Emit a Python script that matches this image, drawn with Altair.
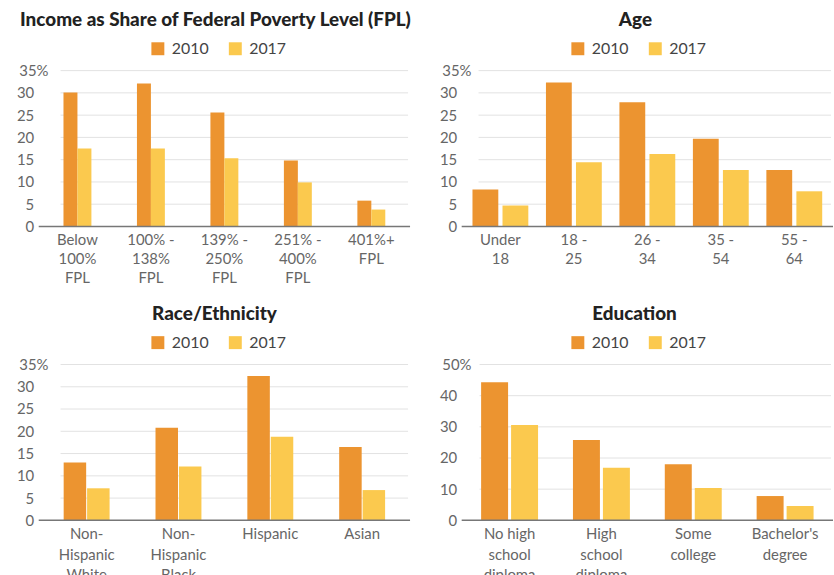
import altair as alt
import pandas as pd

FONT = "Lato"
years = ["2010", "2017"]
colors = ["#EC9430", "#FBC94E"]

fpl_title = "Income as Share of Federal Poverty Level (FPL)"
fpl_cats = ["Below|100%|FPL", "100% -|138%|FPL", "139% -|250%|FPL", "251% -|400%|FPL", "401%+|FPL"]
fpl_2010 = [30.1, 32.1, 25.6, 14.8, 5.8]
fpl_2017 = [17.5, 17.5, 15.3, 9.9, 3.8]

age_title = "Age"
age_cats = ["Under|18", "18 -|25", "26 -|34", "35 -|54", "55 -|64"]
age_2010 = [8.3, 32.3, 27.9, 19.7, 12.7]
age_2017 = [4.7, 14.4, 16.3, 12.7, 7.9]

race_title = "Race/Ethnicity"
race_cats = ["Non-|Hispanic|White", "Non-|Hispanic|Black", "Hispanic", "Asian"]
race_2010 = [13.0, 20.8, 32.4, 16.5]
race_2017 = [7.2, 12.1, 18.8, 6.8]

edu_title = "Education"
edu_cats = ["No high|school|diploma", "High|school|diploma", "Some|college", "Bachelor's|degree"]
edu_2010 = [44.3, 25.8, 18.0, 7.8]
edu_2017 = [30.6, 16.9, 10.4, 4.6]

ticks35 = [0, 5, 10, 15, 20, 25, 30, 35]
ticks50 = [0, 10, 20, 30, 40, 50]

W, H = 370, 157


def panel(title, cats, v10, v17, ticks, pad_inner, off_pad, grid_start, title_dx, legend_x, line_h):
    df = pd.DataFrame({
        "cat": cats * 2,
        "year": [years[0]] * len(cats) + [years[1]] * len(cats),
        "val": v10 + v17,
    })
    top = ticks[-1]
    test = f"datum.value == {top}"
    yaxis = alt.Axis(
        title=None, values=ticks, grid=False, domain=False, ticks=False, tickSize=0,
        labelExpr=f"datum.value == {top} ? '{top}%' : datum.label",
        labelAlign={"condition": {"test": test, "value": "left"}, "value": "right"},
        labelPadding={"condition": {"test": test, "value": 22}, "value": 7},
        labelFont=FONT, labelFontSize=15, labelColor="#666", labelBaseline="middle",
    )
    yenc = alt.Y("val:Q", scale=alt.Scale(domain=[0, top], nice=False, zero=True), axis=yaxis)

    bars = alt.Chart(df).mark_bar().encode(
        x=alt.X("cat:N", sort=cats,
                scale=alt.Scale(paddingInner=pad_inner, paddingOuter=pad_inner / 2),
                axis=alt.Axis(title=None, labelAngle=0, domain=False, ticks=False,
                              labelExpr="split(datum.label, '|')", labelFont=FONT,
                              labelFontSize=15, labelColor="#666", labelLineHeight=line_h,
                              labelPadding=6, labelBaseline="top")),
        xOffset=alt.XOffset("year:N", sort=years, scale=alt.Scale(paddingInner=off_pad, paddingOuter=0)),
        y=yenc,
        color=alt.Color("year:N", scale=alt.Scale(domain=years, range=colors),
                        legend=alt.Legend(title=None, orient="none", legendX=legend_x, legendY=-30,
                                          direction="horizontal", symbolType="square",
                                          symbolSize=170, symbolStrokeWidth=0, labelFont=FONT,
                                          labelFontSize=16, labelColor="#444", columnPadding=18,
                                          labelOffset=6, padding=0)),
    )
    grid = alt.Chart(pd.DataFrame({"val": ticks[1:]})).mark_rule(color="#e2e2e2", strokeWidth=1).encode(
        y=yenc, x=alt.value(grid_start), x2=alt.value(W))
    base = alt.Chart(pd.DataFrame({"val": [0]})).mark_rule(color="#777", strokeWidth=1.5).encode(
        y=yenc, x=alt.value(-2), x2=alt.value(W + 2))
    return alt.layer(grid, bars, base).properties(
        width=W, height=H,
        title=alt.Title(title, font=FONT, fontSize=19, fontWeight=900, color="#222",
                        anchor="middle", dx=title_dx, offset=11),
    )


p1 = panel(fpl_title, fpl_cats, fpl_2010, fpl_2017, ticks35, 0.62, 0.0, 20, -9, 110, 19)
p2 = panel(age_title, age_cats, age_2010, age_2017, ticks35, 0.24, 0.14, 15, -12, 107, 19)
p3 = panel(race_title, race_cats, race_2010, race_2017, ticks35, 0.5, 0.04, 20, -10, 110, 21)
p4 = panel(edu_title, edu_cats, edu_2010, edu_2017, ticks50, 0.38, 0.1, 16, -13, 107, 21)

chart = alt.concat(
    p1, p2, p3, p4, columns=2, spacing={"row": 139, "column": 56}, bounds="flush"
).resolve_scale(
    x="independent", y="independent", color="independent", xOffset="independent"
).resolve_legend(
    color="independent"
).properties(
    padding={"left": 16, "top": 9, "right": 0, "bottom": 0}, background="white"
).configure_view(stroke=None)

chart.save("out.html", embed_options={"renderer": "svg", "actions": False})
